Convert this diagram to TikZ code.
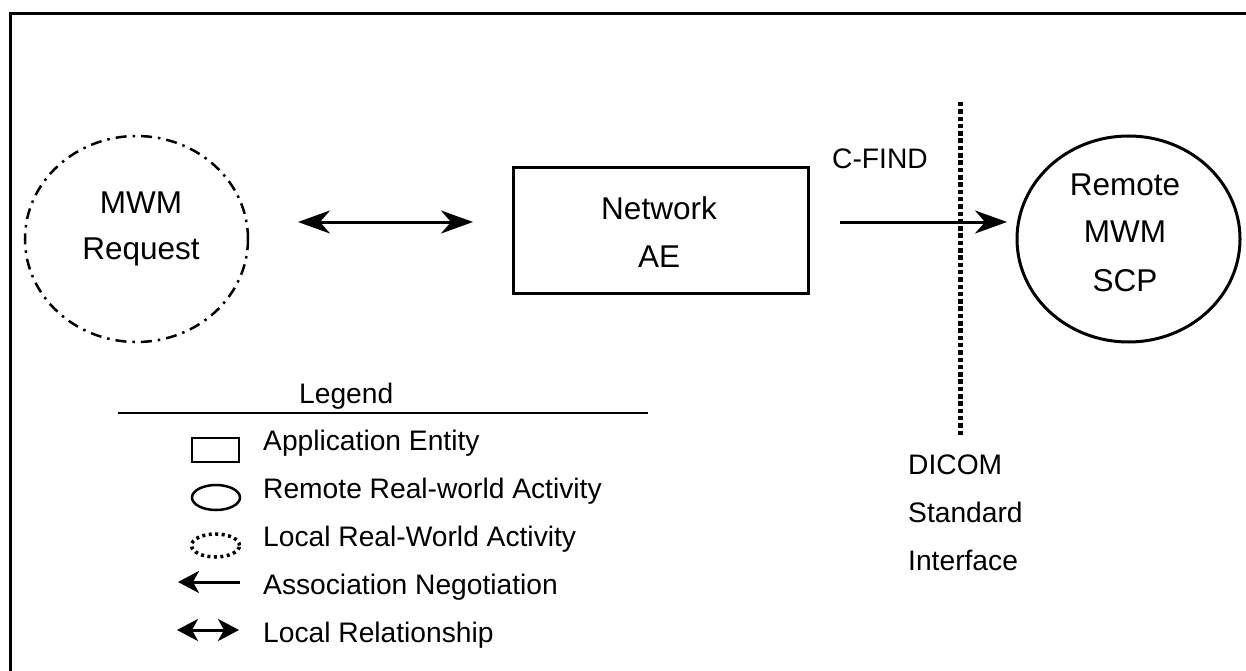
\documentclass[tikz,border=0pt]{standalone}
\usepackage{fontspec}
\setmainfont{Liberation Sans}
\usetikzlibrary{arrows.meta,shapes.geometric}
\tikzset{
  big/.style={font=\fontsize{31.5}{38}\selectfont, inner sep=0pt},
  small/.style={font=\fontsize{28.2}{34}\selectfont, inner sep=0pt},
  frameline/.style={line width=3pt},
  ent/.style={draw, line width=3pt, rectangle, inner sep=0pt},
  remote/.style={draw, line width=3pt, ellipse, inner sep=0pt},
  localact/.style={draw, line width=2.5pt, ellipse, inner sep=0pt, dash pattern=on 11pt off 6pt on 2.5pt off 6pt},
  conn/.style={line width=3pt},
  bigtip/.tip={Stealth[length=32pt,width=23pt,inset=10pt]},
  smalltip/.tip={Stealth[length=21pt,width=22pt,inset=6pt]},
  boundary/.style={line width=5pt, dash pattern=on 4.5pt off 2.8pt},
  legdot/.style={draw, line width=3.5pt, ellipse, inner sep=0pt, dash pattern=on 3pt off 3.5pt},
}
\begin{document}
\begin{tikzpicture}[x=1pt,y=-1pt]
\useasboundingbox (0,0) rectangle (1246,671);
% frame (right and bottom edges lie outside the picture)
\coordinate (frTR) at (1260,14);
\coordinate (frTL) at (10.5,14);
\coordinate (frBL) at (10.5,690);
\draw[frameline] (frTR) -- (frTL) -- (frBL);

% main shapes
\node[localact, minimum width=223pt, minimum height=206pt] (req) at (136.5,239) {};
\node[ent, minimum width=295pt, minimum height=125pt] (ae) at (660.5,230.5) {};
\node[remote, minimum width=223pt, minimum height=206pt] (scp) at (1128.5,239) {};

% labels
\node[big, anchor=base] (reqA) at (141,213.3) {MWM};
\node[big, anchor=base] (reqB) at (141,259.3) {Request};
\node[big, anchor=base] (aeA) at (659,219.3) {Network};
\node[big, anchor=base] (aeB) at (659,267.3) {AE};
\node[big, anchor=base] (scpA) at (1125,195.3) {Remote};
\node[big, anchor=base] (scpB) at (1125,242.3) {MWM};
\node[big, anchor=base] (scpC) at (1125,291.3) {SCP};
\node[small, anchor=base west] (cfind) at (832,168.1) {C-FIND};

% connectors
\coordinate (lrA) at (298,222);
\coordinate (lrB) at (473,222);
\draw[conn, bigtip-bigtip] (lrA) -- (lrB);
\coordinate (cfA) at (840,222);
\coordinate (cfB) at (1007,222);
\draw[conn, -bigtip] (cfA) -- (cfB);

% DICOM interface boundary
\coordinate (bdTop) at (960,102);
\coordinate (bdBot) at (960,437);
\draw[boundary] (bdTop) -- (bdBot);
\node[small, anchor=base west] (dA) at (908,474.1) {DICOM};
\node[small, anchor=base west] (dB) at (908,522.1) {Standard};
\node[small, anchor=base west] (dC) at (908,570.1) {Interface};

% legend
\node[small, anchor=base west] (leg) at (299,403.6) {Legend};
\coordinate (legL) at (118,413);
\coordinate (legR) at (648,413);
\draw[line width=2.5pt] (legL) -- (legR);

\node[ent, line width=2.5pt, minimum width=47pt, minimum height=24pt] (iRect) at (215.5,450) {};
\node[remote, line width=2.5pt, minimum width=48pt, minimum height=25pt] (iEll) at (216,497.5) {};
\node[legdot, minimum width=48pt, minimum height=23pt] (iDot) at (215.5,545.5) {};
\coordinate (iArA) at (240,582);
\coordinate (iArB) at (178,582);
\draw[conn, -smalltip] (iArA) -- (iArB);
\coordinate (iDbA) at (177,630);
\coordinate (iDbB) at (239,630);
\draw[conn, smalltip-smalltip] (iDbA) -- (iDbB);

\node[small, anchor=base west] (t1) at (263,450.1) {Application Entity};
\node[small, anchor=base west] (t2) at (263,498.1) {Remote Real-world Activity};
\node[small, anchor=base west] (t3) at (263,546.1) {Local Real-World Activity};
\node[small, anchor=base west] (t4) at (263,594.1) {Association Negotiation};
\node[small, anchor=base west] (t5) at (263,642.1) {Local Relationship};
\end{tikzpicture}
\end{document}
